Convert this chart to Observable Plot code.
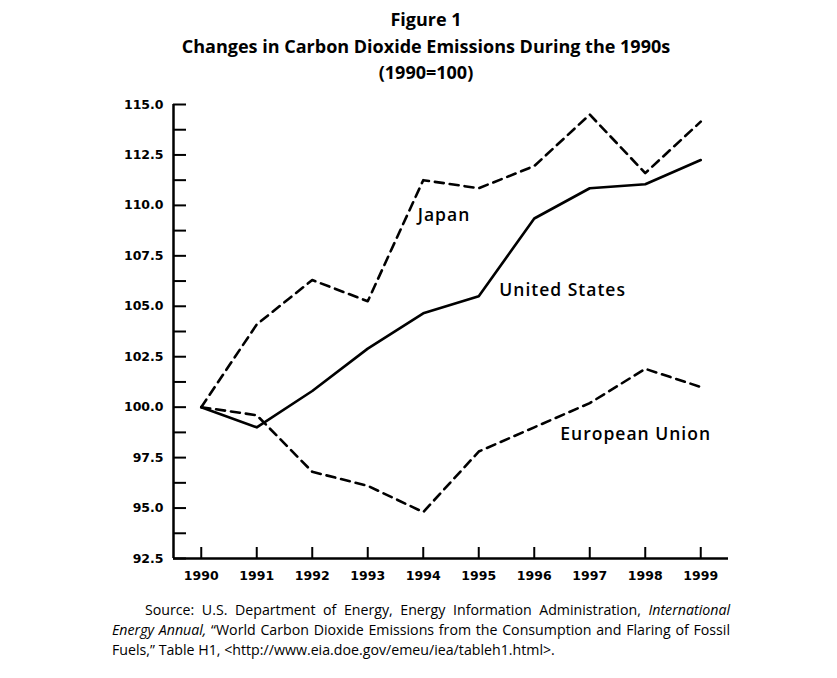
<!DOCTYPE html>
<html>
<head>
<meta charset="utf-8">
<script src="https://cdn.jsdelivr.net/npm/d3@7"></script>
<script src="https://cdn.jsdelivr.net/npm/@observablehq/plot@0.6"></script>
<style>
  body { margin: 0; background: #fff; width: 837px; height: 678px; position: relative; overflow: hidden; font-family: "Open Sans", sans-serif; color: #000; }
  #title { position: absolute; left: 0; top: 6px; width: 852px; text-align: center; font-weight: 700; font-size: 18px; line-height: 26.5px; }
  #chart { position: absolute; left: 0; top: 88px; }
  #chart g[aria-label="text"] text { letter-spacing: 1px; }
  #caption { position: absolute; left: 112px; top: 600px; width: 618px; font-size: 14.2px; line-height: 20px; }
  #caption div { white-space: nowrap; }
  #caption .j { text-align: justify; text-align-last: justify; }
  #caption .first { padding-left: 33px; }
</style>
</head>
<body>
<div id="title">
  <div>Figure 1</div>
  <div>Changes in Carbon Dioxide Emissions During the 1990s</div>
  <div>(1990=100)</div>
</div>
<div id="chart"></div>
<div id="caption">
  <div class="j first">Source: U.S. Department of Energy, Energy Information Administration, <i>International</i></div>
  <div class="j"><i>Energy Annual,</i> “World Carbon Dioxide Emissions from the Consumption and Flaring of Fossil</div>
  <div>Fuels,” Table H1, &lt;http://www.eia.doe.gov/emeu/iea/tableh1.html&gt;.</div>
</div>
<script>
// ---- data ----
const years = [1990, 1991, 1992, 1993, 1994, 1995, 1996, 1997, 1998, 1999];
const unitedStates = [100.0, 99.0, 100.8, 102.9, 104.65, 105.5, 109.35, 110.85, 111.05, 112.25];
const japan = [100.0, 104.1, 106.3, 105.25, 111.25, 110.85, 111.95, 114.5, 111.6, 114.15];
const europeanUnion = [100.0, 99.6, 96.8, 96.1, 94.8, 97.8, 99.0, 100.2, 101.9, 101.0];

const yTickLabels = [92.5, 95.0, 97.5, 100.0, 102.5, 105.0, 107.5, 110.0, 112.5, 115.0];
const yTickMarks = [92.5, 93.75, 95.0, 96.25, 97.5, 98.75, 100.0, 101.25, 102.5, 103.75, 105.0, 106.25,
                    107.5, 108.75, 110.0, 111.25, 112.5, 113.75, 115.0];

const seriesNames = ["Japan", "United States", "European Union"];
const labelYears = [1993.9, 1995.37, 1996.47];
const labelValues = [109.5, 105.78, 98.65];

// ---- build rows ----
const rows = [];
years.forEach((yr, i) => {
  rows.push({series: "United States", year: yr, value: unitedStates[i]});
  rows.push({series: "Japan", year: yr, value: japan[i]});
  rows.push({series: "European Union", year: yr, value: europeanUnion[i]});
});
const labels = seriesNames.map((s, i) => ({series: s, year: labelYears[i], value: labelValues[i]}));

const axisFont = {fontFamily: "DejaVu Sans", fontWeight: "bold", fontSize: 12.5};

const chart = Plot.plot({
  width: 837,
  height: 502,
  marginLeft: 173,
  marginRight: 109,
  marginTop: 16,
  marginBottom: 32,
  style: {background: "#fff", color: "#000", overflow: "visible"},
  x: {domain: [1989.5, 1999.5]},
  y: {domain: [92.5, 115]},
  marks: [
    // y axis: inward tick marks and bold labels
    Plot.axisY(yTickMarks, {tickSize: -13, strokeWidth: 2, tickFormat: () => "", label: null}),
    Plot.axisY(yTickLabels, {tickSize: 0, tickPadding: 10, tickFormat: d => d.toFixed(1), label: null, ...axisFont}),
    // x axis: inward tick marks and bold labels
    Plot.axisX(years, {tickSize: -11, strokeWidth: 2, tickFormat: () => "", label: null}),
    Plot.axisX(years, {tickSize: 0, tickPadding: 13, tickFormat: d => String(d), label: null, ...axisFont}),
    // axis lines
    Plot.ruleX([1989.5], {stroke: "#000", strokeWidth: 2.5}),
    Plot.ruleY([92.5], {stroke: "#000", strokeWidth: 2.5}),
    // series
    Plot.line(rows.filter(d => d.series === "Japan"), {x: "year", y: "value", stroke: "#000", strokeWidth: 2.6, strokeDasharray: "9,6"}),
    Plot.line(rows.filter(d => d.series === "European Union"), {x: "year", y: "value", stroke: "#000", strokeWidth: 2.6, strokeDasharray: "9,6"}),
    Plot.line(rows.filter(d => d.series === "United States"), {x: "year", y: "value", stroke: "#000", strokeWidth: 2.6}),
    // direct labels
    Plot.text(labels, {x: "year", y: "value", text: "series", textAnchor: "start", lineAnchor: "middle",
      fontFamily: "Open Sans", fontWeight: 600, fontSize: 17.5, fill: "#000"})
  ]
});
document.getElementById("chart").appendChild(chart);
</script>
</body>
</html>
